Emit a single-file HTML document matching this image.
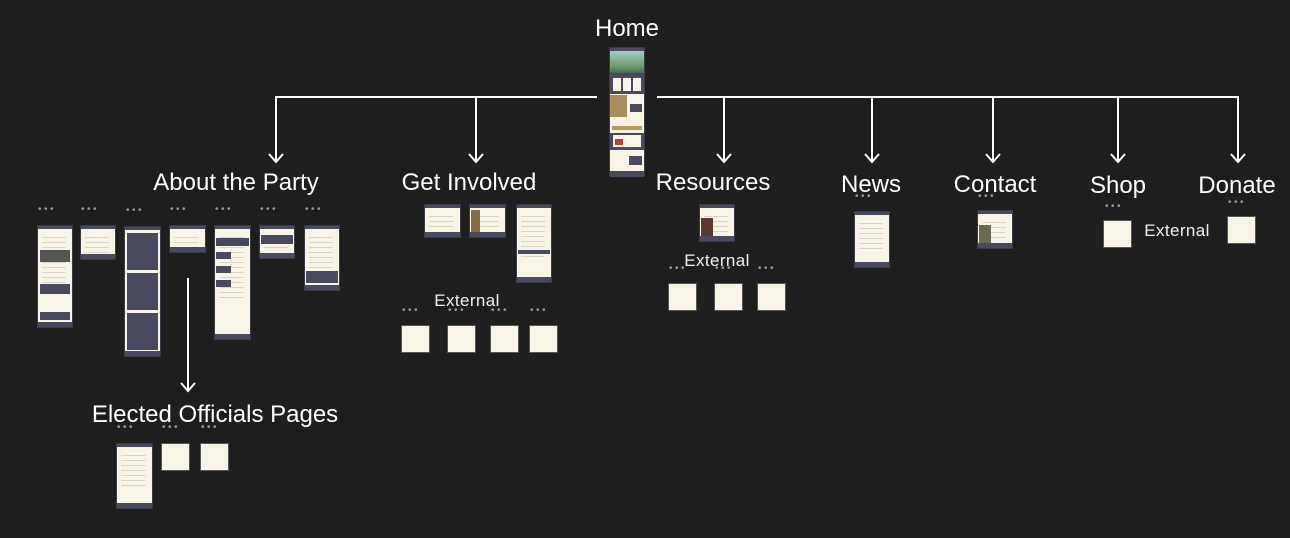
<!DOCTYPE html>
<html><head><meta charset="utf-8"><style>
body{margin:0;width:1290px;height:538px;background:#1e1e1e;position:relative;overflow:hidden;font-family:"Liberation Sans",sans-serif;color:#fff}
.a{position:absolute}
.lbl{position:absolute;font-size:24px;white-space:nowrap;transform:translateX(-50%);line-height:1}
.ext{position:absolute;font-size:17px;letter-spacing:0.4px;white-space:nowrap;transform:translateX(-50%);line-height:1;color:#f0f0f0}
.t{position:absolute;background:#f8f5e8;border:1px solid #3a3a48;box-sizing:border-box;
 background-image:linear-gradient(#4a4a5e,#4a4a5e),linear-gradient(#4a4a5e,#4a4a5e),repeating-linear-gradient(#f8f5e8 0 4px,#d8d4c6 4px 5px);
 background-size:100% 3px,100% 5px,70% 60%;background-position:top,bottom,4px 7px;background-repeat:no-repeat}
.b{position:absolute;width:29px;height:28px;background:#f8f5e8;border:1px solid #555;box-sizing:border-box}
.d{position:absolute;font-size:10px;color:#999;letter-spacing:2.5px;line-height:1}
.dk{position:absolute;background:#4a4a5e}
</style></head><body>
<svg class="a" style="left:0;top:0" width="1290" height="538">
<g stroke="#fff" stroke-width="2" fill="none">
<path d="M597 97H276V162M657 97H1238V162"/>
<path d="M476 97V162M724 97V162M872 97V162M993 97V162M1118 97V162"/>
<path d="M188 278V390"/>
<path d="M269 154L276 162L283 154M469 154L476 162L483 154M717 154L724 162L731 154M865 154L872 162L879 154M986 154L993 162L1000 154M1111 154L1118 162L1125 154M1231 154L1238 162L1245 154M181 383L188 391L195 383"/>
</g></svg>

<div class="lbl" style="left:627px;top:17px">Home</div>
<div class="a" style="left:609px;top:47px;width:36px;height:129px;background:#f8f5e8;border:1px solid #3a3a48;box-sizing:border-box">
 <div class="dk" style="left:0;top:0;width:100%;height:3px"></div>
 <div class="a" style="left:0;top:3px;width:100%;height:22px;background:linear-gradient(#9ed0c8,#6f9a6a 70%,#4a6a58)"></div>
 <div class="dk" style="left:0;top:25px;width:100%;height:21px"></div>
 <div class="a" style="left:3px;top:30px;width:8px;height:13px;background:#f8f5e8"></div>
 <div class="a" style="left:13px;top:30px;width:8px;height:13px;background:#f8f5e8"></div>
 <div class="a" style="left:23px;top:30px;width:8px;height:13px;background:#f8f5e8"></div>
 <div class="a" style="left:0;top:47px;width:17px;height:22px;background:#a88e5c"></div>
 <div class="dk" style="left:20px;top:56px;width:12px;height:8px"></div>
 <div class="a" style="left:2px;top:78px;width:30px;height:4px;background:#b89a5a"></div>
 <div class="dk" style="left:0;top:85px;width:100%;height:17px"></div>
 <div class="a" style="left:3px;top:87px;width:28px;height:12px;background:#f8f5e8"></div>
 <div class="a" style="left:5px;top:91px;width:8px;height:6px;background:#c04030"></div>
 <div class="dk" style="left:19px;top:108px;width:13px;height:9px"></div>
 <div class="dk" style="left:0;top:123px;width:100%;height:6px"></div>
</div>

<div class="lbl" style="left:236px;top:171px">About the Party</div>
<div class="lbl" style="left:469px;top:171px">Get Involved</div>
<div class="lbl" style="left:713px;top:171px">Resources</div>
<div class="lbl" style="left:871px;top:173px">News</div>
<div class="lbl" style="left:995px;top:173px">Contact</div>
<div class="lbl" style="left:1118px;top:174px">Shop</div>
<div class="lbl" style="left:1237px;top:174px">Donate</div>
<div class="lbl" style="left:215px;top:403px">Elected Officials Pages</div>

<!-- dots -->
<div class="d" style="left:38px;top:205px">•••</div>
<div class="d" style="left:81px;top:205px">•••</div>
<div class="d" style="left:126px;top:206px">•••</div>
<div class="d" style="left:170px;top:205px">•••</div>
<div class="d" style="left:215px;top:205px">•••</div>
<div class="d" style="left:260px;top:205px">•••</div>
<div class="d" style="left:305px;top:205px">•••</div>

<!-- About thumbs -->
<div class="t" style="left:37px;top:225px;width:36px;height:103px"></div>
<div class="a" style="left:40px;top:250px;width:30px;height:12px;background:#555"></div>
<div class="dk" style="left:40px;top:284px;width:30px;height:10px"></div>
<div class="dk" style="left:40px;top:312px;width:30px;height:8px"></div>
<div class="t" style="left:80px;top:225px;width:36px;height:35px"></div>
<div class="t" style="left:124px;top:226px;width:37px;height:131px"></div>
<div class="dk" style="left:127px;top:233px;width:31px;height:37px"></div>
<div class="dk" style="left:127px;top:273px;width:31px;height:37px"></div>
<div class="dk" style="left:127px;top:313px;width:31px;height:37px"></div>
<div class="t" style="left:169px;top:225px;width:37px;height:28px"></div>
<div class="t" style="left:214px;top:225px;width:37px;height:115px"></div>
<div class="dk" style="left:216px;top:238px;width:33px;height:8px"></div>
<div class="dk" style="left:216px;top:252px;width:15px;height:7px"></div>
<div class="dk" style="left:216px;top:266px;width:15px;height:7px"></div>
<div class="dk" style="left:216px;top:280px;width:15px;height:7px"></div>
<div class="t" style="left:259px;top:225px;width:36px;height:34px"></div>
<div class="dk" style="left:261px;top:235px;width:32px;height:9px"></div>
<div class="t" style="left:304px;top:225px;width:36px;height:66px"></div>
<div class="dk" style="left:306px;top:271px;width:32px;height:12px"></div>

<!-- Elected -->
<div class="d" style="left:117px;top:423px">•••</div>
<div class="d" style="left:162px;top:423px">•••</div>
<div class="d" style="left:201px;top:423px">•••</div>
<div class="t" style="left:116px;top:443px;width:37px;height:66px"></div>
<div class="b" style="left:161px;top:443px"></div>
<div class="b" style="left:200px;top:443px"></div>

<!-- Get involved -->
<div class="t" style="left:424px;top:204px;width:37px;height:34px"></div>
<div class="t" style="left:469px;top:204px;width:37px;height:34px"></div>
<div class="a" style="left:471px;top:210px;width:9px;height:22px;background:#8a6a40"></div>
<div class="t" style="left:516px;top:204px;width:36px;height:79px"></div>
<div class="dk" style="left:518px;top:250px;width:32px;height:4px"></div>
<div class="ext" style="left:467px;top:292px">External</div>
<div class="d" style="left:402px;top:306px">•••</div>
<div class="d" style="left:448px;top:306px">•••</div>
<div class="d" style="left:491px;top:306px">•••</div>
<div class="d" style="left:530px;top:306px">•••</div>
<div class="b" style="left:401px;top:325px"></div>
<div class="b" style="left:447px;top:325px"></div>
<div class="b" style="left:490px;top:325px"></div>
<div class="b" style="left:529px;top:325px"></div>

<!-- Resources -->
<div class="t" style="left:699px;top:204px;width:36px;height:38px"></div>
<div class="a" style="left:701px;top:218px;width:12px;height:18px;background:#5a3a30"></div>
<div class="ext" style="left:717px;top:252px">External</div>
<div class="d" style="left:669px;top:264px">•••</div>
<div class="d" style="left:715px;top:264px">•••</div>
<div class="d" style="left:758px;top:264px">•••</div>
<div class="b" style="left:668px;top:283px"></div>
<div class="b" style="left:714px;top:283px"></div>
<div class="b" style="left:757px;top:283px"></div>

<!-- News / Contact -->
<div class="d" style="left:855px;top:192px">•••</div>
<div class="t" style="left:854px;top:211px;width:36px;height:57px"></div>
<div class="d" style="left:978px;top:192px">•••</div>
<div class="t" style="left:977px;top:210px;width:36px;height:39px"></div>
<div class="a" style="left:979px;top:225px;width:12px;height:18px;background:#6a6a50"></div>

<!-- Shop / Donate -->
<div class="d" style="left:1105px;top:202px">•••</div>
<div class="b" style="left:1103px;top:220px"></div>
<div class="ext" style="left:1177px;top:222px">External</div>
<div class="d" style="left:1228px;top:198px">•••</div>
<div class="b" style="left:1227px;top:216px"></div>
</body></html>
